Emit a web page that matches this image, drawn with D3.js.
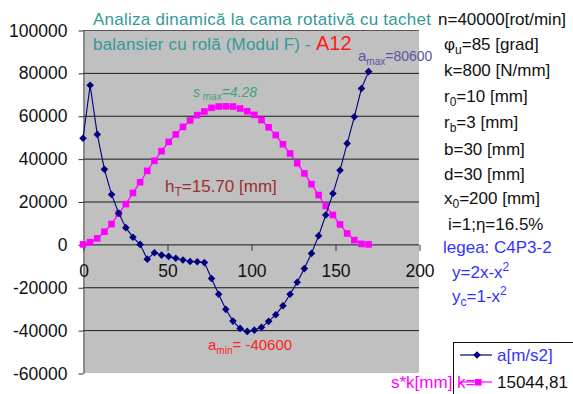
<!DOCTYPE html>
<html>
<head>
<meta charset="utf-8">
<script src="https://cdn.jsdelivr.net/npm/d3@7"></script>
<style>
  body { margin: 0; background: #fff; }
  text { font-family: "Liberation Sans", Arial, sans-serif; }
</style>
</head>
<body>
<script>
// cam angle (deg), acceleration a and s*k
var phi = [0, 4.25, 8.5, 12.75, 17, 21.25, 25.5, 29.75, 34, 38.25, 42.5, 46.75, 51, 55.25,
  59.5, 63.75, 68, 72.25, 76.5, 80.75, 85, 89.25, 93.5, 97.75, 102, 106.25, 110.5, 114.75,
  119, 123.25, 127.5, 131.75, 136, 140.25, 144.5, 148.75, 153, 157.25, 161.5, 165.75, 170];

var accel = [49500, 74200, 51300, 35000, 23300, 14500, 7800, 3300, 0, -6900, -3900, -5000,
  -5600, -6500, -7300, -8000, -8100, -8500, -15900, -23300, -30300, -35800, -39200, -40600,
  -40000, -38700, -35900, -32800, -28600, -23300, -17700, -11300, -4200, 4000, 13700, 23700,
  34600, 47100, 59500, 72700, 80600];

var sk = [0, 1000, 2800, 5900, 9500, 14400, 18800, 24000, 29000, 34300, 39000, 43500, 47800,
  51300, 54800, 57800, 60300, 62000, 63700, 64300, 64390, 64300, 63400, 62100, 60400, 58000,
  54600, 51000, 46700, 42400, 37800, 33100, 28100, 23000, 17900, 13700, 9300, 5100, 2000, 200, 0];

var xTicks = [0, 50, 100, 150, 200];
var yTicks = [-60000, -40000, -20000, 0, 20000, 40000, 60000, 80000, 100000];

var width = 573, height = 394;
var margin = {top: 30, left: 83, right: 154, bottom: 21};

var svg = d3.select("body").append("svg")
  .attr("width", width)
  .attr("height", height);

var xScale = d3.scaleLinear().domain([0, 200]).range([margin.left, width - margin.right]);
var yScale = d3.scaleLinear().domain([-60000, 100000]).range([height - margin.bottom, margin.top]);

// plot area
svg.append("rect")
  .attr("x", margin.left).attr("y", margin.top)
  .attr("width", xScale(200) - margin.left)
  .attr("height", yScale(-60000) - margin.top)
  .attr("fill", "#c0c0c0");

// grid lines
svg.selectAll(".grid").data(yTicks.filter(function(d) { return d > -60000; }))
  .enter().append("line")
  .attr("x1", margin.left).attr("x2", xScale(200))
  .attr("y1", function(d) { return yScale(d) + 0.5; })
  .attr("y2", function(d) { return yScale(d) + 0.5; })
  .attr("stroke", function(d) { return d == 100000 ? "#555" : "#1a1a1a"; })
  .attr("stroke-width", 1);

// y axis
var yAxis = svg.append("g")
  .attr("transform", "translate(" + (margin.left + 0.5) + ",0.5)")
  .call(d3.axisLeft(yScale).tickValues(yTicks).tickSize(5).tickSizeOuter(0).tickPadding(11)
    .tickFormat(function(d) { return String(d); }));
yAxis.select(".domain").attr("stroke", "#555");
yAxis.selectAll(".tick line").attr("stroke", "#333");
yAxis.selectAll("text").attr("font-size", 17.5).attr("fill", "#111")
  .attr("font-family", "'Liberation Sans', Arial, sans-serif");

// x axis (crosses at 0)
var xAxis = svg.append("g")
  .attr("transform", "translate(0.5," + (yScale(0) + 0.5) + ")")
  .call(d3.axisBottom(xScale).tickValues(xTicks).tickSize(6).tickSizeOuter(0));
xAxis.select(".domain").remove();
xAxis.selectAll(".tick line").attr("stroke", "#333");
xAxis.selectAll("text").attr("font-size", 17.5).attr("fill", "#111").attr("y", 20)
  .attr("font-family", "'Liberation Sans', Arial, sans-serif");

// series s*k
var seriesLine = d3.line()
  .x(function(d, i) { return xScale(phi[i]); })
  .y(function(d) { return yScale(d); });
svg.append("path").datum(sk)
  .attr("d", seriesLine).attr("fill", "none").attr("stroke", "#ff00ff").attr("stroke-width", 1.2);
svg.selectAll(".sq").data(sk).enter().append("rect")
  .attr("x", function(d, i) { return xScale(phi[i]) - 3.3; })
  .attr("y", function(d) { return yScale(d) - 3.3; })
  .attr("width", 6.6).attr("height", 6.6)
  .attr("fill", "#ff00ff");

// series a
svg.append("path").datum(accel)
  .attr("d", seriesLine).attr("fill", "none").attr("stroke", "#000080").attr("stroke-width", 1.1);
var diamond = "M0,-3.8L3.8,0L0,3.8L-3.8,0Z";
svg.selectAll(".dm").data(accel).enter().append("path")
  .attr("transform", function(d, i) { return "translate(" + xScale(phi[i]) + "," + yScale(d) + ")"; })
  .attr("d", diamond)
  .attr("fill", "#000080");

// titles
var t1 = svg.append("text").attr("x", 93).attr("y", 25).attr("font-size", 17);
t1.append("tspan").attr("fill", "#339999")
  .attr("textLength", 338).attr("lengthAdjust", "spacing")
  .text("Analiza dinamică la cama rotativă cu tachet");
t1.append("tspan").attr("x", 438).attr("fill", "#111").text("n=40000[rot/min]");

var t2 = svg.append("text").attr("x", 93).attr("y", 50).attr("font-size", 17);
t2.append("tspan").attr("fill", "#339999")
  .attr("textLength", 207).attr("lengthAdjust", "spacing")
  .text("balansier cu rolă (Modul F)");
t2.append("tspan").attr("x", 305).attr("fill", "#339999").text("-");
t2.append("tspan").attr("x", 316).attr("fill", "#ff1a1a").attr("font-size", 20).text("A12");

// parameters panel
function withSub(x, y, color, parts) {
  var t = svg.append("text").attr("x", x).attr("y", y).attr("font-size", 17).attr("fill", color);
  parts.forEach(function(p) {
    var s = t.append("tspan").text(p.t);
    if (p.sub) s.attr("font-size", 12).attr("dy", 4);
    if (p.after) s.attr("dy", -4);
    if (p.sup) s.attr("font-size", 12).attr("dy", -7);
  });
  return t;
}
withSub(444, 50, "#111", [{t: "φ"}, {t: "u", sub: true}, {t: "=85 [grad]", after: true}]);
withSub(444, 76, "#111", [{t: "k=800 [N/mm]"}]);
withSub(444, 102, "#111", [{t: "r"}, {t: "0", sub: true}, {t: "=10 [mm]", after: true}]);
withSub(444, 128, "#111", [{t: "r"}, {t: "b", sub: true}, {t: "=3 [mm]", after: true}]);
withSub(444, 155, "#111", [{t: "b=30 [mm]"}]);
withSub(444, 180, "#111", [{t: "d=30 [mm]"}]);
withSub(444, 204, "#111", [{t: "x"}, {t: "0", sub: true}, {t: "=200 [mm]", after: true}]);
withSub(448, 230, "#111", [{t: "i=1;η=16.5%"}]);
withSub(443, 253, "#3333ff", [{t: "legea: C4P3-2"}]);
withSub(452, 278, "#3333ff", [{t: "y=2x-x"}, {t: "2", sup: true}]);
withSub(452, 302, "#3333ff", [{t: "y"}, {t: "c", sub: true}, {t: "=1-x", after: true}, {t: "2", sup: true}]);

// annotations
var am = svg.append("text").attr("x", 358).attr("y", 61).attr("font-size", 15).attr("fill", "#55559f");
am.append("tspan").text("a");
am.append("tspan").attr("font-size", 10).attr("dy", 4).text("max");
am.append("tspan").attr("dy", -4).attr("font-size", 14).text("=80600");

var sm = svg.append("text").attr("x", 193).attr("y", 97).attr("font-size", 14)
  .attr("font-style", "italic").attr("fill", "#44a077");
sm.append("tspan").text("s");
sm.append("tspan").attr("font-size", 10).attr("dy", 3).text(" max");
sm.append("tspan").attr("dy", -3).text("=4.28");

var ht = svg.append("text").attr("x", 165).attr("y", 192).attr("font-size", 17).attr("fill", "#9c2f2f");
ht.append("tspan").text("h");
ht.append("tspan").attr("font-size", 12).attr("dy", 4).text("T");
ht.append("tspan").attr("dy", -4).text("=15.70 [mm]");

var an = svg.append("text").attr("x", 208).attr("y", 350).attr("font-size", 15).attr("fill", "#ff2020");
an.append("tspan").text("a");
an.append("tspan").attr("font-size", 10).attr("dy", 4).text("min");
an.append("tspan").attr("dy", -4).text("= -40600");

// legend
svg.append("rect").attr("x", 453.5).attr("y", 342.5).attr("width", 130).attr("height", 60)
  .attr("fill", "#fff").attr("stroke", "#111");
svg.append("line").attr("x1", 460).attr("x2", 492).attr("y1", 355).attr("y2", 355)
  .attr("stroke", "#000080").attr("stroke-width", 1.2);
svg.append("path").attr("transform", "translate(477,355)").attr("d", diamond).attr("fill", "#000080");
svg.append("text").attr("x", 497).attr("y", 361).attr("font-size", 17).attr("fill", "#3333ff").text("a[m/s2]");
svg.append("line").attr("x1", 460).attr("x2", 492).attr("y1", 382).attr("y2", 382)
  .attr("stroke", "#ff00ff").attr("stroke-width", 1.2);
svg.append("rect").attr("x", 475).attr("y", 379).attr("width", 6.6).attr("height", 6.6).attr("fill", "#ff00ff");
svg.append("text").attr("x", 497).attr("y", 388).attr("font-size", 17).attr("fill", "#111").text("15044,81");
svg.append("text").attr("x", 391).attr("y", 388).attr("font-size", 17).attr("fill", "#ff00ff").text("s*k[mm] k=");
</script>
</body>
</html>
